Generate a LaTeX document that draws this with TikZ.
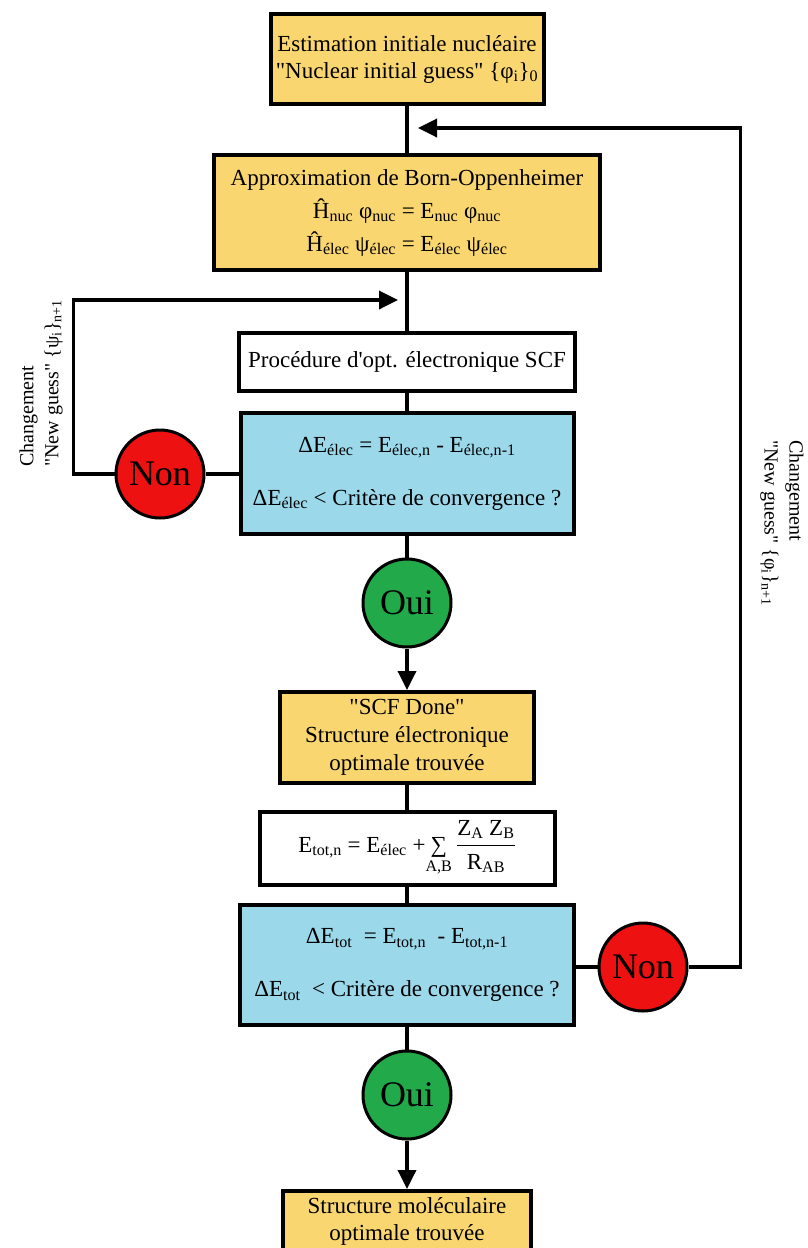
\documentclass[tikz,border=0pt]{standalone}
\usepackage{amsmath}
\usepackage{fontspec}
\setmainfont{Liberation Serif}[Ligatures=TeXOff]
\usetikzlibrary{positioning,arrows.meta}
\definecolor{stageyellow}{HTML}{F9D66F}
\definecolor{checkblue}{HTML}{9BD8EA}
\definecolor{failred}{HTML}{EE1111}
\definecolor{passgreen}{HTML}{22AA4A}
\newcommand{\sbs}[1]{\textsubscript{#1}}
\tikzset{
stage/.style={draw, line width=4pt, fill=stageyellow, align=center,
font=\fontsize{23}{27}\selectfont, inner sep=2pt},
calc/.style={stage, fill=white},
check/.style={stage, fill=checkblue},
answer/.style={circle, draw, line width=3pt, minimum size=88pt, inner sep=0pt,
font=\fontsize{36}{40}\selectfont},
pass/.style={answer, fill=passgreen},
fail/.style={answer, fill=failred},
link/.style={line width=3.5pt},
arrow/.style={link, -{Triangle[length=19pt,width=18pt]}},
guess/.style={align=left, font=\fontsize{20}{25}\selectfont, inner sep=0pt}
}

\begin{document}
\begin{tikzpicture}[x=1pt,y=-1pt]
\useasboundingbox (0,0) rectangle (808,1248);
% main column
\node[stage, minimum width=273pt, minimum height=90pt](init) at (407,59)
{Estimation initiale nucléaire\\"Nuclear initial guess" \{φ\sbs{i}\}\sbs{0}};
\node[stage, minimum width=386pt, minimum height=115pt,
font=\fontsize{23}{33}\selectfont](born) at (407,212.5)
{Approximation de Born-Oppenheimer\\Ĥ\sbs{nuc} φ\sbs{nuc} = E\sbs{nuc} φ\sbs{nuc}\\
Ĥ\sbs{élec} ψ\sbs{élec} = E\sbs{élec} ψ\sbs{élec}};
\node[calc, minimum width=336pt, minimum height=58pt](proc) at (407,362)
{Procédure d'opt. électronique SCF};
\node[check, minimum width=333pt, minimum height=121pt](dele) at (407,473.5)
{ΔE\sbs{élec} = E\sbs{élec,n} - E\sbs{élec,n-1}\\[26pt]ΔE\sbs{élec} < Critère de convergence ?};
\node[pass](oui1) at (407,603){Oui};
\node[stage, minimum width=254pt, minimum height=91pt,
font=\fontsize{23}{28}\selectfont](scf) at (407,737.5)
{"SCF Done"\\Structure électronique\\optimale trouvée};
\node[calc, minimum width=295pt, minimum height=73pt](etot) at (407,848.5)
{E\sbs{tot,n} = E\sbs{élec} +$\mathop{\text{∑}}\limits_{\text{A,B}}
\dfrac{\text{Z\sbs{A} Z\sbs{B}}}{\text{R\sbs{AB}}}$};
\node[check, minimum width=334pt, minimum height=120pt](delt) at (407,965)
{ΔE\sbs{tot}\ \ = E\sbs{tot,n}\ \ - E\sbs{tot,n-1}\\[26pt]ΔE\sbs{tot}\ \ < Critère de convergence ?};
\node[pass](oui2) at (407,1095){Oui};
\node[stage, anchor=north, minimum width=248pt, minimum height=60pt](final) at (407,1189)
{Structure moléculaire\\optimale trouvée};
% decisions
\node[fail](non1) at (160,474){Non};
\node[fail](non2) at (643,967){Non};
\foreach \a/\b in {init/born,born/proc,proc/dele,dele/oui1,scf/etot,etot/delt,delt/oui2}
\draw[link](\a)--(\b);
\foreach \a/\b in {oui1/scf,oui2/final}
\draw[arrow](\a)--(\b);
\draw[link](dele.west|-non1)--(non1);
\draw[link](delt.east|-non2)--(non2);
% loops back
\coordinate(backL) at (398,300);
\coordinate(backR) at (418,128);
\draw[arrow](non1.west)--++(-41,0)|-(backL);
\draw[arrow](non2.east)--++(52,0)|-(backR);
\node[guess, rotate=90, anchor=west](guessL) at (41,467)
{Changement\\"New guess" \{ψ\sbs{i}\}\sbs{n+1}};
\node[guess, rotate=-90, anchor=west](guessR) at (782,440)
{Changement\\"New guess" \{φ\sbs{i}\}\sbs{n+1}};
\end{tikzpicture}
\end{document}
